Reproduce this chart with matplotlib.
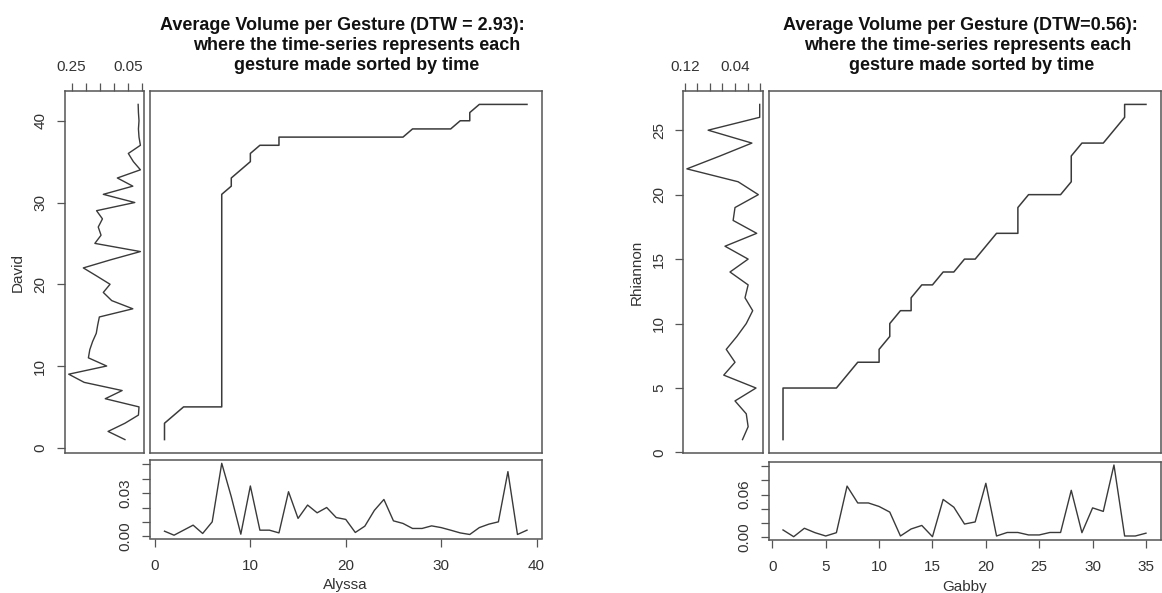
import matplotlib.pyplot as plt

W, H = 1162, 593

# left pair: Alyssa (query, along x) vs David (reference, along y)
alyssa = [0.0035, 0.0007, 0.0042, 0.0077, 0.0019, 0.010, 0.0508, 0.0275, 0.0014, 0.035,
          0.0042, 0.0042, 0.0023, 0.031, 0.0124, 0.0217, 0.0163, 0.020, 0.013, 0.0117,
          0.0026, 0.007, 0.018, 0.0256, 0.0107, 0.0089, 0.0054, 0.0054, 0.0072, 0.006,
          0.0042, 0.0023, 0.0012, 0.006, 0.0084, 0.010, 0.045, 0.0012, 0.0042]
david = [0.06, 0.12, 0.06, 0.012, 0.01, 0.13, 0.07, 0.205, 0.26, 0.125,
         0.19, 0.185, 0.175, 0.162, 0.157, 0.151, 0.032, 0.107, 0.137, 0.113,
         0.16, 0.208, 0.11, 0.005, 0.167, 0.145, 0.155, 0.14, 0.161, 0.025,
         0.137, 0.032, 0.087, 0.005, 0.03, 0.048, 0.005, 0.01, 0.012, 0.01,
         0.012, 0.013]
# warping path corners (query index, reference index)
path1_x = [1, 1, 3, 7, 7, 8, 8, 10, 10, 11, 13, 13, 26, 27, 31, 32, 33, 33, 34, 39]
path1_y = [1, 3, 5, 5, 31, 32, 33, 35, 36, 37, 37, 38, 38, 39, 39, 40, 40, 41, 42, 42]

# right pair: Gabby (query) vs Rhiannon (reference)
gabby = [0.0096, 0.0, 0.012, 0.0057, 0.001, 0.0057, 0.072, 0.048, 0.048, 0.043,
         0.035, 0.001, 0.011, 0.016, 0.0, 0.053, 0.042, 0.018, 0.021, 0.076,
         0.001, 0.006, 0.006, 0.0025, 0.0025, 0.006, 0.006, 0.066, 0.0057, 0.041,
         0.036, 0.102, 0.001, 0.001, 0.005]
rhiannon = [0.028, 0.019, 0.022, 0.040, 0.0064, 0.058, 0.04, 0.054, 0.037, 0.022,
            0.0117, 0.024, 0.019, 0.048, 0.019, 0.056, 0.0053, 0.043, 0.04, 0.0027,
            0.035, 0.117, 0.064, 0.013, 0.083, 0.0005, 0.0005]
path2_x = [1, 1, 6, 8, 10, 10, 11, 11, 12, 13, 13, 14, 15, 16, 17, 18, 19, 21, 23, 23,
           24, 27, 28, 28, 29, 31, 33, 33, 35]
path2_y = [1, 5, 5, 7, 7, 8, 9, 10, 11, 11, 12, 13, 13, 14, 14, 15, 15, 17, 17, 19,
           20, 20, 21, 23, 24, 24, 26, 27, 27]

titles = [
    ["Average Volume per Gesture (DTW = 2.93):",
     "where the time-series represents each",
     "gesture made sorted by time"],
    ["Average Volume per Gesture (DTW=0.56):",
     "where the time-series represents each",
     "gesture made sorted by time"],
]

plt.rcParams['font.family'] = ['Liberation Sans', 'DejaVu Sans']

LINE = '#3a3a3a'
BOX = '#555555'
TXT = '#333333'


def addPanel(fig, x0, y0, x1, y1):
    ax = fig.add_axes([x0 / W, 1 - y1 / H, (x1 - x0) / W, (y1 - y0) / H])
    for s in ax.spines.values():
        s.set_color(BOX)
        s.set_linewidth(1.1)
    ax.tick_params(colors=BOX, labelcolor=TXT, length=5.5, width=0.9,
                   labelsize=11, pad=7)
    return ax


def someLabels(ticks, keep, fmt):
    return [fmt.format(t) if i in keep else "" for i, t in enumerate(ticks)]


def drawThreeWay(fig, q, r, px, py, qName, rName, title, geo):
    nq, nr = len(q), len(r)
    xlim = (1 - 0.04 * (nq - 1), nq + 0.04 * (nq - 1))
    ylim = (1 - 0.04 * (nr - 1), nr + 0.04 * (nr - 1))

    # main warping path
    ax = addPanel(fig, *geo['main'])
    ax.plot(px, py, color=LINE, lw=1.1)
    ax.set_xlim(xlim)
    ax.set_ylim(ylim)
    ax.set_xticks([])
    ax.set_yticks([])

    # reference series on the left, turned sideways
    axs = addPanel(fig, *geo['side'])
    axs.plot(r, range(1, nr + 1), color=LINE, lw=1.0)
    axs.set_xlim(geo['sideLim'])
    axs.set_ylim(ylim)
    axs.xaxis.tick_top()
    st = geo['sideTicks']
    axs.set_xticks(st)
    axs.set_xticklabels(someLabels(st, geo['sideKeep'], "{:.2f}"))
    axs.set_yticks(geo['yTicks'])
    axs.tick_params(axis='y', labelrotation=90)
    for lab in axs.get_yticklabels():
        lab.set_va('center')
    axs.set_ylabel(rName, fontsize=11, color=TXT, labelpad=6)

    # query series below
    axb = addPanel(fig, *geo['bottom'])
    axb.plot(range(1, nq + 1), q, color=LINE, lw=1.0)
    axb.set_xlim(xlim)
    axb.set_ylim(geo['bottomLim'])
    axb.set_xticks(geo['xTicks'])
    axb.tick_params(axis='x', pad=9)
    bt = geo['bottomTicks']
    axb.set_yticks(bt)
    axb.set_yticklabels(someLabels(bt, geo['bottomKeep'], "{:.2f}"))
    axb.tick_params(axis='y', labelrotation=90)
    for lab in axb.get_yticklabels():
        lab.set_va('center')
    axb.set_xlabel(qName, fontsize=11, color=TXT, labelpad=4)

    for line, (cx, cy) in zip(title, geo['titlePos']):
        fig.text(cx / W, 1 - cy / H, line, ha='center', va='center',
                 fontsize=13, fontweight='bold', color='#111111')


fig = plt.figure(figsize=(W / 100, H / 100), dpi=100)

leftGeo = {
    'main': (150, 91, 541.5, 453),
    'side': (64.5, 91, 143.5, 453),
    'bottom': (150, 460, 541.5, 538.5),
    'sideLim': (0.275, -0.006),
    'sideTicks': [0.25, 0.20, 0.15, 0.10, 0.05, 0.00],
    'sideKeep': [0, 4],
    'yTicks': [0, 10, 20, 30, 40],
    'bottomLim': (-0.0016, 0.0531),
    'bottomTicks': [0.00, 0.01, 0.02, 0.03, 0.04, 0.05],
    'bottomKeep': [0, 3],
    'xTicks': [0, 10, 20, 30, 40],
    'titlePos': [(342.6, 25), (356.7, 45), (357, 65)],
}
rightGeo = {
    'main': (768.5, 91, 1160.5, 453),
    'side': (683.3, 91, 762.7, 453),
    'bottom': (768.5, 461.5, 1160.5, 540),
    'sideLim': (0.1227, -0.0043),
    'sideTicks': [0.12, 0.10, 0.08, 0.06, 0.04, 0.02, 0.00],
    'sideKeep': [0, 4],
    'yTicks': [0, 5, 10, 15, 20, 25],
    'bottomLim': (-0.0047, 0.107),
    'bottomTicks': [0.00, 0.02, 0.04, 0.06, 0.08, 0.10],
    'bottomKeep': [0, 3],
    'xTicks': [0, 5, 10, 15, 20, 25, 30, 35],
    'titlePos': [(960, 25), (967.5, 45), (971.7, 65)],
}

drawThreeWay(fig, alyssa, david, path1_x, path1_y, "Alyssa", "David", titles[0], leftGeo)
drawThreeWay(fig, gabby, rhiannon, path2_x, path2_y, "Gabby", "Rhiannon", titles[1], rightGeo)

fig.savefig("out.png", dpi=100)
